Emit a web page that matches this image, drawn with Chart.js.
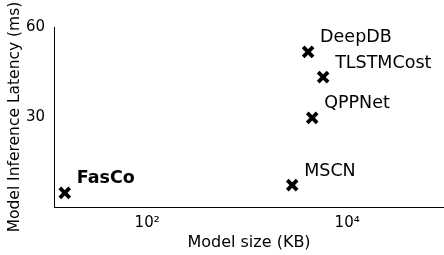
<!DOCTYPE html>
<html>
<head>
<meta charset="utf-8">
<script src="https://cdn.jsdelivr.net/npm/chart.js@4/dist/chart.umd.min.js"></script>
<style>
html, body { margin: 0; padding: 0; background: #fff; }
</style>
</head>
<body>
<canvas id="chart" width="444" height="255"></canvas>
<script>
const models = ["FasCo", "MSCN", "DeepDB", "TLSTMCost", "QPPNet"];
const sizeKB = [15, 2820, 4070, 5750, 4470];
const latencyMs = [4.7, 7.3, 51.7, 43.3, 29.7];
const xTicks = [100, 10000];
const xTickLabels = ["10²", "10⁴"];
const yTicks = [30, 60];

Chart.defaults.font.family = "'DejaVu Sans'";
Chart.defaults.color = "#000";

// names written next to each marker
const pointLabels = {
    id: "pointLabels",
    afterDatasetsDraw(chart) {
        const ctx = chart.ctx;
        const meta = chart.getDatasetMeta(0);
        ctx.save();
        ctx.fillStyle = "#000";
        ctx.textBaseline = "middle";
        ctx.textAlign = "left";
        meta.data.forEach((pt, i) => {
            ctx.font = (models[i] === "FasCo" ? "bold " : "") + "17.5px 'DejaVu Sans'";
            ctx.fillText(models[i], pt.x + 12, pt.y - 14);
        });
        ctx.restore();
    }
};

new Chart(document.getElementById("chart"), {
    type: "scatter",
    data: {
        datasets: [{
            data: sizeKB.map((s, i) => ({ x: s, y: latencyMs[i] })),
            pointStyle: "crossRot",
            pointRadius: 7,
            pointHoverRadius: 7,
            borderWidth: 3.8,
            borderColor: "#000",
            backgroundColor: "#000"
        }]
    },
    options: {
        responsive: false,
        animation: false,
        layout: { autoPadding: false, padding: { top: 27, right: 0, left: 0, bottom: 0 } },
        plugins: {
            legend: { display: false },
            tooltip: { enabled: false }
        },
        scales: {
            x: {
                type: "logarithmic",
                min: 11.7,
                max: 93000,
                afterBuildTicks: s => { s.ticks = xTicks.map(v => ({ value: v })); },
                afterFit: s => {
                    s.height = 48;
                    s.paddingLeft = 0;
                    s.paddingRight = 0;
                },
                grid: { display: false, drawTicks: false },
                border: { display: true, color: "#000", width: 1 },
                ticks: {
                    autoSkip: false,
                    maxRotation: 0,
                    padding: 7,
                    font: { size: 15 },
                    callback: v => xTickLabels[xTicks.indexOf(v)]
                },
                title: {
                    display: true,
                    text: "Model size (KB)",
                    font: { size: 16 },
                    padding: { top: 0, bottom: 3 }
                }
            },
            y: {
                min: 0,
                max: 60,
                afterBuildTicks: s => { s.ticks = yTicks.map(v => ({ value: v })); },
                afterFit: s => {
                    s.width = 54;
                    s.paddingTop = 0;
                    s.paddingBottom = 0;
                },
                grid: { display: false, drawTicks: false },
                border: { display: true, color: "#000", width: 1 },
                ticks: {
                    padding: 9,
                    font: { size: 15 }
                },
                title: {
                    display: true,
                    text: "Model Inference Latency (ms)",
                    font: { size: 15.5 },
                    padding: { top: 6, bottom: 0 }
                }
            }
        }
    },
    plugins: [pointLabels]
});
</script>
</body>
</html>
